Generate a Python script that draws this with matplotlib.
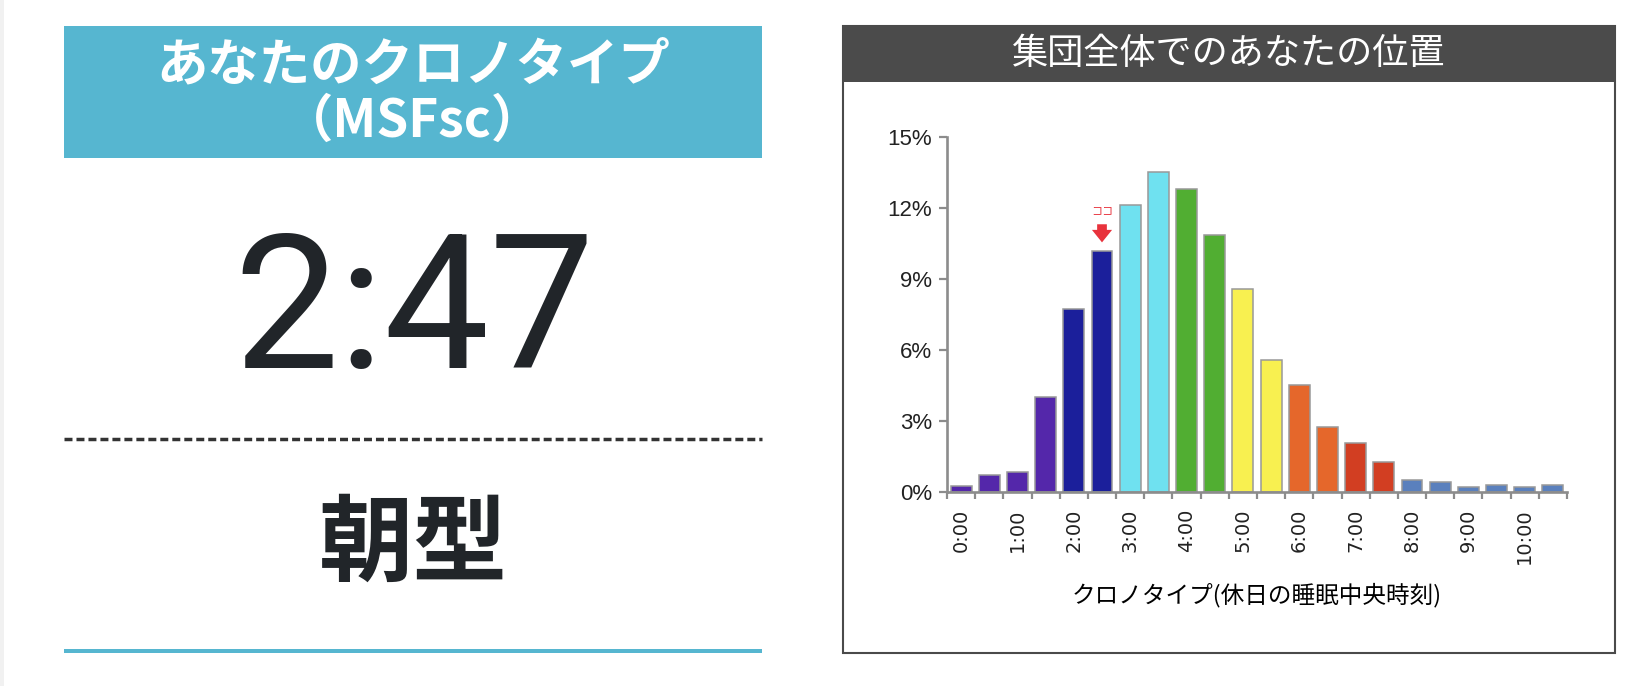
import numpy as np
import matplotlib
matplotlib.use("Agg")
import matplotlib.pyplot as plt
from matplotlib.patches import Rectangle

# chronotype histogram (share of respondents per 30-min bin of mid-sleep on free days)
bin_values = [0.27, 0.72, 0.86, 4.0, 7.72, 10.18, 12.14, 13.52, 12.8, 10.85, 8.56,
              5.58, 4.52, 2.76, 2.06, 1.27, 0.49, 0.42, 0.22, 0.28, 0.22, 0.28]
bin_colors = ["#5427AA"] * 4 + ["#1B1F9B"] * 2 + ["#6FE1F0"] * 2 + ["#51AE32"] * 2 + \
             ["#F8F050"] * 2 + ["#E5672B"] * 2 + ["#D23E22"] * 2 + ["#5A80BD"] * 6
hour_labels = ["0:00", "1:00", "2:00", "3:00", "4:00", "5:00", "6:00",
               "7:00", "8:00", "9:00", "10:00"]
y_ticks = [0, 3, 6, 9, 12, 15]
user_bin = 5
user_time = "2:47"
user_type = "朝型"

W, H = 1638, 686
CYAN = "#56B6D0"
TEXT = "#212529"
JP = ["Noto Sans CJK JP", "DejaVu Sans"]

fig = plt.figure(figsize=(W / 100, H / 100), dpi=100)
fig.patch.set_facecolor("white")

# background canvas in pixel coordinates
bg = fig.add_axes([0, 0, 1, 1])
bg.set_xlim(0, W)
bg.set_ylim(H, 0)
bg.axis("off")

bg.add_patch(Rectangle((0, 0), 4, H, color="#F1F1F1", lw=0))

# left card
bg.add_patch(Rectangle((64, 26), 698, 132, color=CYAN, lw=0))
bg.text(413, 65, "あなたのクロノタイプ", color="white", fontsize=37, fontweight="bold",
        family=JP, ha="center", va="center")
bg.text(413, 121, "（MSFsc）", color="white", fontsize=37, fontweight="bold",
        family=JP, ha="center", va="center")
bg.text(414, 368, user_time, color=TEXT, fontsize=135, family=["Roboto", "DejaVu Sans"],
        ha="center", va="baseline")
bg.plot([64, 762], [439, 439], color="#333333", lw=2.5, linestyle=(0, (2.3, 1.15)),
        solid_capstyle="butt", dash_capstyle="butt")
bg.text(413, 546, user_type, color=TEXT, fontsize=68, fontweight="bold",
        family=JP, ha="center", va="center")
bg.add_patch(Rectangle((64, 649), 698, 4, color=CYAN, lw=0))

# right card frame
bg.add_patch(Rectangle((843, 26), 772, 627, fill=False, edgecolor="#4A4A4A", lw=1.5))
bg.add_patch(Rectangle((843, 26), 772, 56, color="#4B4B4B", lw=0))
bg.text(1229, 54, "集団全体でのあなたの位置", color="white", fontsize=26,
        family=JP, ha="center", va="center")

# histogram
ax = fig.add_axes([947 / W, 1 - 492 / H, 620 / W, 355 / H])
ax.set_facecolor("none")
x = np.arange(len(bin_values))
ax.bar(x, bin_values, width=0.74, color=bin_colors, edgecolor="#999999", linewidth=1.1,
       zorder=2)
ax.set_xlim(-0.5, len(bin_values) - 0.5)
ax.set_ylim(0, 15)

for s in ["top", "right"]:
    ax.spines[s].set_visible(False)
for s in ["left", "bottom"]:
    ax.spines[s].set_color("#8C8C8C")
    ax.spines[s].set_linewidth(1.9)

ax.set_yticks(y_ticks)
ax.set_yticklabels([f"{v}%" for v in y_ticks])
ax.tick_params(axis="y", length=5.8, width=1.6, color="#8C8C8C", pad=5,
               labelsize=16, labelcolor="#222222")
for t in ax.get_yticklabels():
    t.set_family(["Liberation Sans", "DejaVu Sans"])

ax.set_xticks(np.arange(0, len(bin_values), 2))
ax.set_xticklabels(hour_labels, rotation=90, family="DejaVu Sans",
                   fontsize=14, color="#222222", va="top")
ax.set_xticks(np.arange(-0.5, len(bin_values)), minor=True)
ax.tick_params(axis="x", which="major", length=0, pad=12)
ax.tick_params(axis="x", which="minor", length=5, width=1.6, color="#8C8C8C")

ax.set_xlabel("クロノタイプ(休日の睡眠中央時刻)", family=JP, fontsize=17, color="black",
              labelpad=13)

# marker for the user's bin
red = "#E8323C"
h = bin_values[user_bin]
ax.annotate("", xy=(user_bin, h + 0.25), xytext=(user_bin, h + 1.25),
            arrowprops=dict(arrowstyle="simple,head_length=0.9,head_width=1.45,tail_width=0.7",
                            color=red, lw=0, mutation_scale=10), zorder=3)
ax.text(user_bin, h + 1.65, "ココ", color=red, fontsize=8, family=JP, ha="center", va="center")

fig.savefig("out.png", dpi=100)
